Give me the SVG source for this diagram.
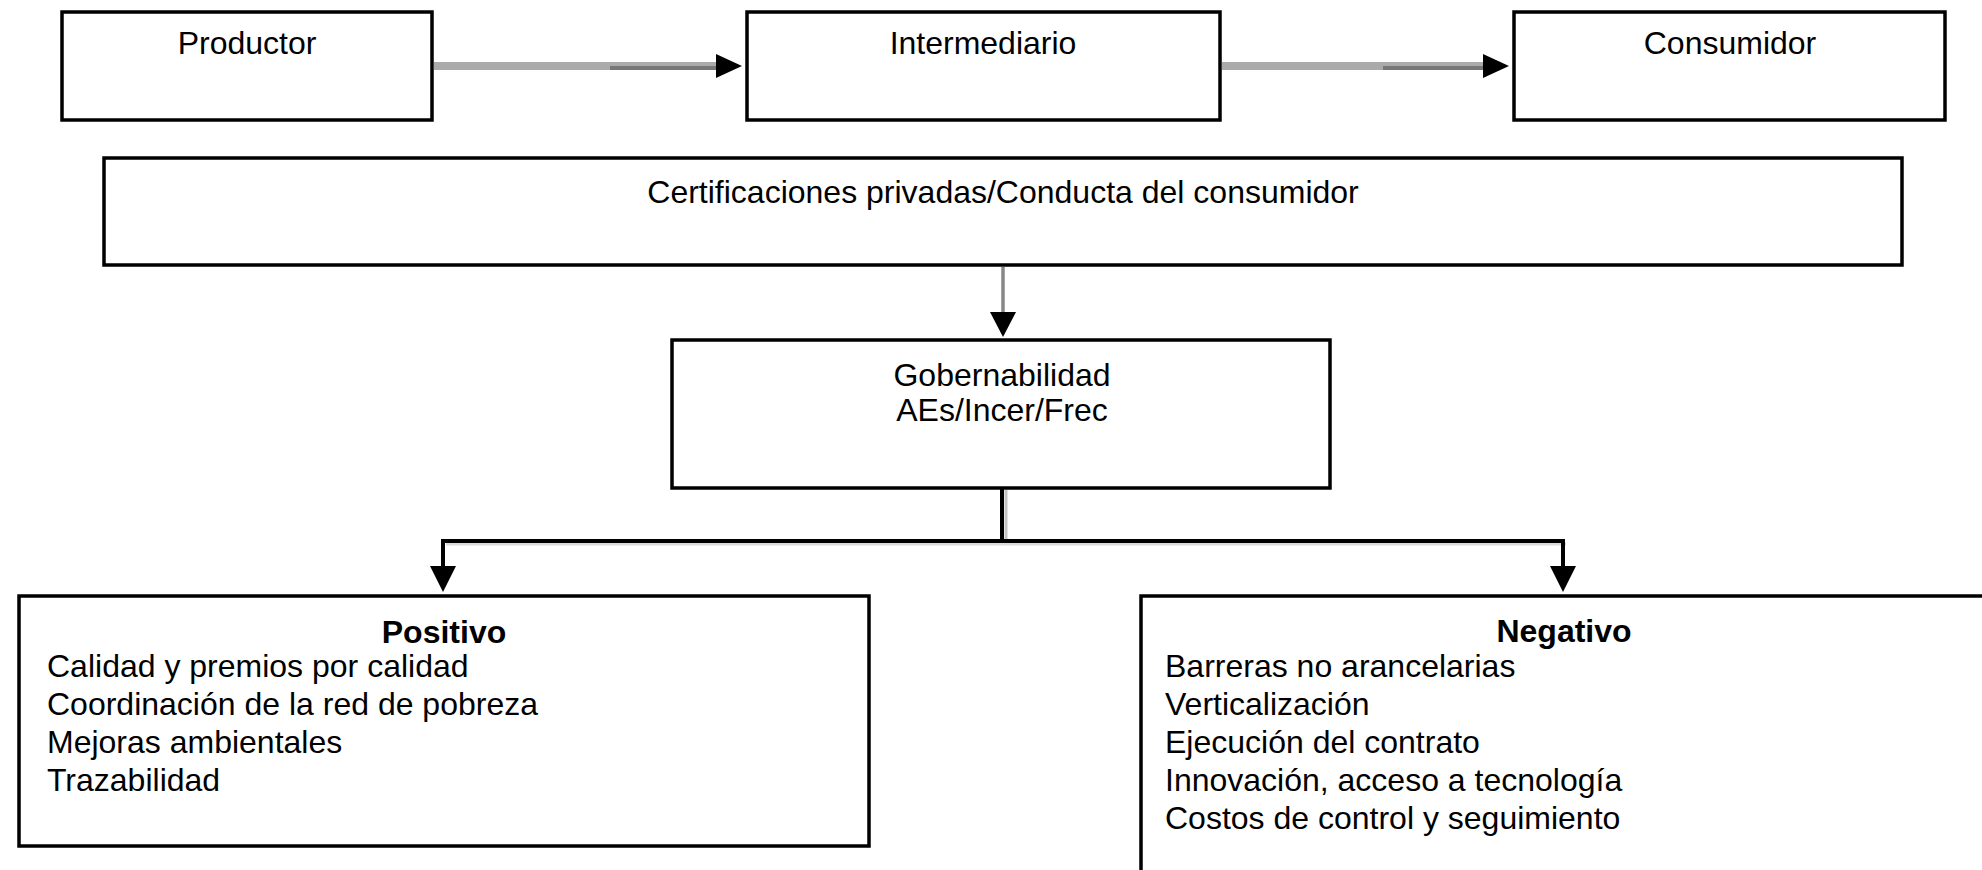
<svg xmlns="http://www.w3.org/2000/svg" width="1982" height="870" viewBox="0 0 1982 870">
<style>
.box{fill:#fff;stroke:#000;stroke-width:3.5}
.t{font-family:"Liberation Sans",Arial,sans-serif;font-size:32px;fill:#000}
.c{text-anchor:middle}
.b{font-weight:bold}
.ah{fill:#000}
</style>
<rect width="1982" height="870" fill="#fff"/>
<g id="connectors">
  <rect x="434" y="62" width="283" height="8" fill="#aaaaaa"/>
  <rect x="610" y="66" width="107" height="4" fill="#777777"/>
  <polygon class="ah" points="716,54 742,66 716,78"/>
  <rect x="1222" y="62" width="262" height="8" fill="#aaaaaa"/>
  <rect x="1383" y="66" width="101" height="4" fill="#777777"/>
  <polygon class="ah" points="1483,54 1509,66 1483,78"/>
  <line x1="1003" y1="267" x2="1003" y2="314" stroke="#888" stroke-width="3.5"/>
  <polygon class="ah" points="990,312 1016,312 1003,337"/>
  <line x1="1006" y1="490" x2="1006" y2="545" stroke="#c4c4c4" stroke-width="3"/>
  <line x1="446" y1="544" x2="1566" y2="544" stroke="#dadada" stroke-width="3"/>
  <line x1="1002" y1="488" x2="1002" y2="541" stroke="#000" stroke-width="4"/>
  <polyline points="443,568 443,541 1563,541 1563,568" fill="none" stroke="#000" stroke-width="4"/>
  <polygon class="ah" points="430,566 456,566 443,592"/>
  <polygon class="ah" points="1550,566 1576,566 1563,592"/>
</g>
<g id="productor">
  <rect class="box" x="62" y="12" width="370" height="108"/>
  <text class="t c" x="247" y="54">Productor</text>
</g>
<g id="intermediario">
  <rect class="box" x="747" y="12" width="473" height="108"/>
  <text class="t c" x="983" y="54">Intermediario</text>
</g>
<g id="consumidor">
  <rect class="box" x="1514" y="12" width="431" height="108"/>
  <text class="t c" x="1730" y="54">Consumidor</text>
</g>
<g id="certificaciones">
  <rect class="box" x="104" y="158" width="1798" height="107"/>
  <text class="t c" x="1003" y="203">Certificaciones privadas/Conducta del consumidor</text>
</g>
<g id="gobernabilidad">
  <rect class="box" x="672" y="340" width="658" height="148"/>
  <text class="t c" x="1002" y="386">Gobernabilidad</text>
  <text class="t c" x="1002" y="421">AEs/Incer/Frec</text>
</g>
<g id="positivo">
  <rect class="box" x="19" y="596" width="850" height="250"/>
  <text class="t c b" x="444" y="643">Positivo</text>
  <text class="t" x="47" y="677">Calidad y premios por calidad</text>
  <text class="t" x="47" y="715">Coordinación de la red de pobreza</text>
  <text class="t" x="47" y="753">Mejoras ambientales</text>
  <text class="t" x="47" y="791">Trazabilidad</text>
</g>
<g id="negativo">
  <rect class="box" x="1141" y="596" width="900" height="400"/>
  <text class="t c b" x="1564" y="642">Negativo</text>
  <text class="t" x="1165" y="677">Barreras no arancelarias</text>
  <text class="t" x="1165" y="715">Verticalización</text>
  <text class="t" x="1165" y="753">Ejecución del contrato</text>
  <text class="t" x="1165" y="791">Innovación, acceso a tecnología</text>
  <text class="t" x="1165" y="829">Costos de control y seguimiento</text>
</g>
</svg>
